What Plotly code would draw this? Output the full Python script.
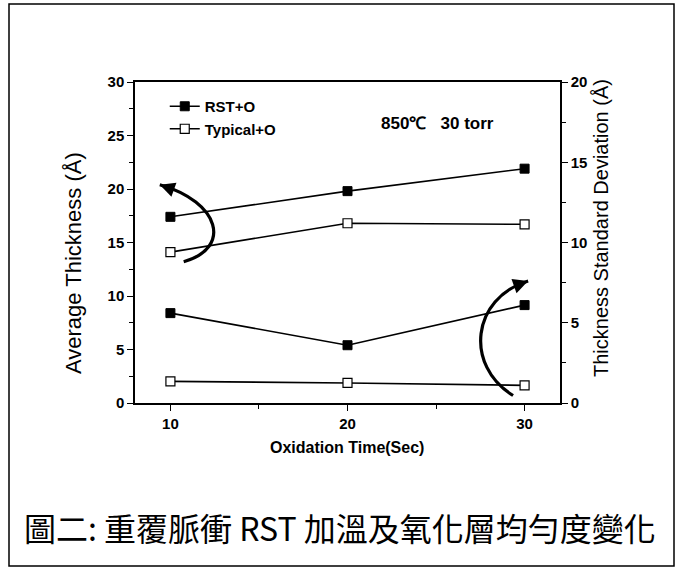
import plotly.graph_objects as go

# ---- data ----
time_sec = [10, 20, 30]
rst_thickness = [17.4, 19.8, 21.9]
typical_thickness = [14.1, 16.8, 16.7]
rst_stddev = [5.6, 3.6, 6.1]
typical_stddev = [1.35, 1.25, 1.1]
series_names = ["RST+O", "Typical+O"]

# curved arrow guides (data coords): start, ctrl1, ctrl2, end
arrow_left = [(10.75, 13.2), (13.5, 14.5), (12.8, 18.8), (9.4, 20.4)]
arrow_right = [(29.35, 0.7), (26.6, 3.5), (27.0, 9.8), (30.2, 11.4)]

FONT = "Arial, Liberation Sans, sans-serif"
W, H = 682, 571
L, R, T, B = 135, 122, 82, 168
pw, ph = W - L - R, H - T - B


def px2paper(x, y):
    return (x - L) / pw, (H - B - y) / ph


fig = go.Figure()

mk_filled = dict(symbol="square", size=9, color="black", line=dict(color="black", width=1))
mk_open = dict(symbol="square", size=9, color="white", line=dict(color="black", width=1.2))
ln = dict(color="black", width=1.6)

fig.add_trace(go.Scatter(x=time_sec, y=rst_thickness, mode="lines+markers", name=series_names[0],
                         marker=mk_filled, line=ln, yaxis="y"))
fig.add_trace(go.Scatter(x=time_sec, y=typical_thickness, mode="lines+markers", name=series_names[1],
                         marker=mk_open, line=ln, yaxis="y"))
fig.add_trace(go.Scatter(x=time_sec, y=rst_stddev, mode="lines+markers", name=series_names[0],
                         marker=mk_filled, line=ln, yaxis="y2", showlegend=False))
fig.add_trace(go.Scatter(x=time_sec, y=typical_stddev, mode="lines+markers", name=series_names[1],
                         marker=mk_open, line=ln, yaxis="y2", showlegend=False))

tickfont = dict(family=FONT, size=15, color="black", weight="bold")
axis_common = dict(showgrid=False, zeroline=False, showline=True, linecolor="black", linewidth=1.5,
                   ticks="outside", ticklen=6, tickwidth=1.3, tickcolor="black", tickfont=tickfont)

fig.update_layout(
    width=W, height=H,
    margin=dict(l=L, r=R, t=T, b=B),
    paper_bgcolor="white", plot_bgcolor="white",
    font=dict(family=FONT, color="black"),
    xaxis=dict(range=[8, 32], tick0=0, dtick=10, mirror=True,
               minor=dict(ticks="outside", dtick=5, tick0=0, ticklen=4, tickcolor="black", showgrid=False),
               **axis_common),
    yaxis=dict(range=[0, 30], tick0=0, dtick=5,
               minor=dict(ticks="outside", dtick=2.5, tick0=0, ticklen=4, tickcolor="black", showgrid=False),
               **axis_common),
    yaxis2=dict(range=[0, 20], tick0=0, dtick=5, overlaying="y", side="right",
                minor=dict(ticks="outside", dtick=2.5, tick0=0, ticklen=4, tickcolor="black", showgrid=False),
                **axis_common),
    legend=dict(x=0.07, y=0.975, xanchor="left", yanchor="top", bgcolor="rgba(0,0,0,0)",
                font=dict(family=FONT, size=15, color="black", weight="bold"),
                tracegroupgap=0, itemwidth=30),
    showlegend=True,
)


def bezier_path(p):
    return "M {} {} C {} {}, {} {}, {} {}".format(p[0][0], p[0][1], p[1][0], p[1][1],
                                                  p[2][0], p[2][1], p[3][0], p[3][1])


shapes = []
for arr in (arrow_left, arrow_right):
    shapes.append(dict(type="path", path=bezier_path(arr), xref="x", yref="y",
                       line=dict(color="black", width=3.2)))

# outer frame
fx0, fy0 = px2paper(9, 4)
fx1, fy1 = px2paper(674, 566)
shapes.append(dict(type="rect", xref="paper", yref="paper", x0=fx0, y0=fy1, x1=fx1, y1=fy0,
                   line=dict(color="black", width=1.5)))
fig.update_layout(shapes=shapes)

anns = []
# arrowheads at the ends of the curves
anns.append(dict(x=arrow_left[3][0], y=arrow_left[3][1], xref="x", yref="y", text="", showarrow=True,
                 arrowhead=2, arrowsize=1, arrowwidth=3, arrowcolor="black", ax=14, ay=5))
anns.append(dict(x=arrow_right[3][0], y=arrow_right[3][1], xref="x", yref="y", text="", showarrow=True,
                 arrowhead=2, arrowsize=1, arrowwidth=3, arrowcolor="black", ax=-14, ay=5))


def label(px, py, text, font, angle=0):
    x, y = px2paper(px, py)
    return dict(x=x, y=y, xref="paper", yref="paper", showarrow=False, text=text, font=font,
                xanchor="center", yanchor="middle", textangle=angle)


anns.append(label(437, 123, "850℃   30 torr", dict(family=FONT, size=17, color="black", weight="bold")))
anns.append(label(73, 263, "Average Thickness (Å)", dict(family=FONT, size=22, color="black"), -90))
anns.append(label(601, 228, "Thickness Standard Deviation (Å)", dict(family=FONT, size=20, color="black"), -90))
anns.append(label(347, 447, "Oxidation Time(Sec)", dict(family=FONT, size=16, color="black", weight="bold")))
anns.append(label(340, 527, "圖二: 重覆脈衝 RST 加溫及氧化層均勻度變化",
                  dict(family="Noto Sans CJK TC, Noto Sans CJK SC, sans-serif", size=32, color="black")))

fig.update_layout(annotations=anns)

fig.write_html("out.html")
